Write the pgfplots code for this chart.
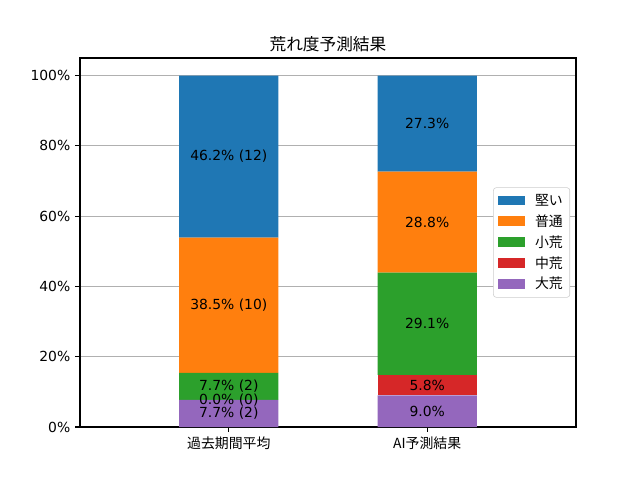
\documentclass[border=0pt]{standalone}
\usepackage{fontspec}
\setmainfont{DejaVu Sans}
\newfontfamily\jp{Noto Sans CJK JP}
\usepackage{pgfplots}
\pgfplotsset{compat=1.18}
\definecolor{tabblue}{HTML}{1F77B4}
\definecolor{taborange}{HTML}{FF7F0E}
\definecolor{tabgreen}{HTML}{2CA02C}
\definecolor{tabred}{HTML}{D62728}
\definecolor{tabpurple}{HTML}{9467BD}
\tikzset{lbl/.style={font=\fontsize{10}{12}\selectfont, text=black}}
\pgfplotsset{geom/.style={at={(57.6pt,38.16pt)}, anchor=south west,
  scale only axis, width=357.12pt, height=265.68pt,
  xmin=-0.75, xmax=1.75, ymin=0, ymax=105}}
\begin{document}
\begin{tikzpicture}
\useasboundingbox (0,0) rectangle (460.8pt,345.6pt);
\begin{axis}[
  geom,
  ybar stacked, bar width=0.5,
  xtick={0,1}, xticklabels={{\jp 過去期間平均},{\jp AI予測結果}},
  ytick={0,20,40,60,80,100},
  yticklabels={0\%,20\%,40\%,60\%,80\%,100\%},
  tick label style={font=\fontsize{10}{12}\selectfont},
  tick align=outside, xtick pos=bottom, ytick pos=left,
  major tick length=3.5pt,
  tick style={black, line width=0.8pt},
  axis line style={line width=0.8pt},
  ymajorgrids, grid style={color=black!31, line width=0.8pt},
  title={\jp 荒れ度予測結果},
  title style={font=\fontsize{12}{14}\selectfont, yshift=-5pt},
  legend style={at={(axis description cs:0.988,0.5)}, anchor=east,
    draw=black!20, rounded corners=2pt, fill=white,
    font=\fontsize{10}{12}\selectfont\jp, row sep=1.2pt, inner xsep=3pt, inner ysep=2.5pt},
  legend cell align=left,
  legend image code/.code={\fill[#1, sharp corners] (0pt,-3.5pt) rectangle (20pt,3.5pt); \path (25pt,0pt);},
]
\addlegendimage{fill=tabblue, draw=none}
\addlegendentry{堅い}
\addlegendimage{fill=taborange, draw=none}
\addlegendentry{普通}
\addlegendimage{fill=tabgreen, draw=none}
\addlegendentry{小荒}
\addlegendimage{fill=tabred, draw=none}
\addlegendentry{中荒}
\addlegendimage{fill=tabpurple, draw=none}
\addlegendentry{大荒}
\addplot[fill=tabpurple, draw=none, forget plot] coordinates {(0,7.7) (1,9.0)};
\addplot[fill=tabred, draw=none, forget plot] coordinates {(0,0.0) (1,5.8)};
\addplot[fill=tabgreen, draw=none, forget plot] coordinates {(0,7.7) (1,29.1)};
\addplot[fill=taborange, draw=none, forget plot] coordinates {(0,38.5) (1,28.8)};
\addplot[fill=tabblue, draw=none, forget plot] coordinates {(0,46.1) (1,27.3)};
\end{axis}
\begin{axis}[geom, hide axis]
\node[lbl] at (axis cs:0,3.85) {7.7\% (2)};
\node[lbl] at (axis cs:0,7.7) {0.0\% (0)};
\node[lbl] at (axis cs:0,11.55) {7.7\% (2)};
\node[lbl] at (axis cs:0,34.65) {38.5\% (10)};
\node[lbl] at (axis cs:0,76.95) {46.2\% (12)};
\node[lbl] at (axis cs:1,4.5) {9.0\%};
\node[lbl] at (axis cs:1,11.9) {5.8\%};
\node[lbl] at (axis cs:1,29.35) {29.1\%};
\node[lbl] at (axis cs:1,58.3) {28.8\%};
\node[lbl] at (axis cs:1,86.35) {27.3\%};
\end{axis}
\end{tikzpicture}
\end{document}
